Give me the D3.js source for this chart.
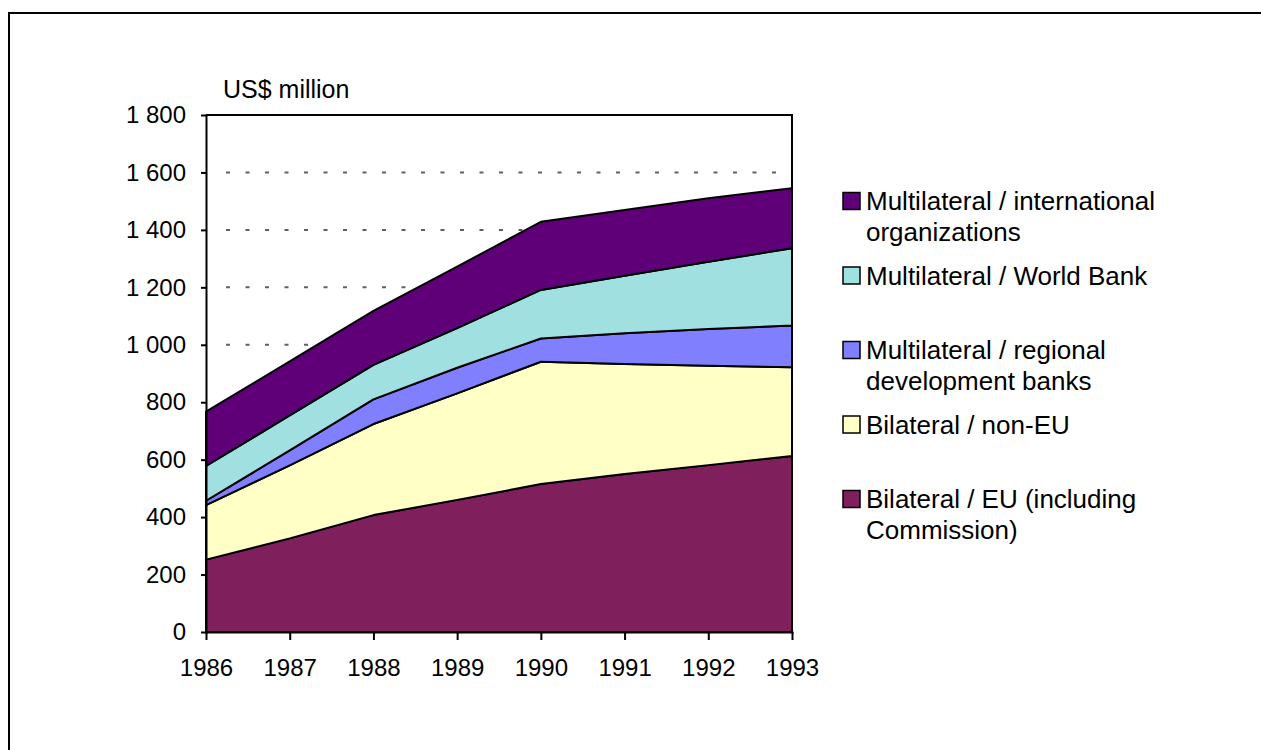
<!DOCTYPE html>
<html>
<head>
<meta charset="utf-8">
<script src="https://cdn.jsdelivr.net/npm/d3@7"></script>
<style>
	body { margin: 0; background: #fff; }
	svg { display: block; font-family: "Liberation Sans", Arial, sans-serif; }
	.axis text { font-size: 24px; fill: #000; }
	.axis path, .axis line { stroke: #000; stroke-width: 2px; }
</style>
</head>
<body>
<svg width="1261" height="750"></svg>
<script>
'use strict';

// data (US$ million per year, per source)
var years = [1986, 1987, 1988, 1989, 1990, 1991, 1992, 1993];
var bilateralEU = [252, 326, 407, 460, 515, 550, 581, 613];
var bilateralNonEU = [190, 254, 317, 371, 426, 383, 346, 309];
var regionalBanks = [15, 52, 86, 89, 81, 107, 128, 145];
var worldBank = [121, 122, 120, 138, 169, 200, 234, 269];
var intlOrgs = [189, 188, 188, 214, 237, 229, 221, 209];
var yTicks = [0, 200, 400, 600, 800, 1000, 1200, 1400, 1600, 1800];

// series names, bottom to top, with legend lines and colours
var keys = ["eu", "noneu", "regional", "wb", "intl"];
var legendLines = {
	intl: ["Multilateral / international", "organizations"],
	wb: ["Multilateral / World Bank"],
	regional: ["Multilateral / regional", "development banks"],
	noneu: ["Bilateral / non-EU"],
	eu: ["Bilateral / EU (including", "Commission)"]
};
var colors = {
	eu: "#7f1f5c",
	noneu: "#ffffc6",
	regional: "#8080ff",
	wb: "#a0e0e0",
	intl: "#5f0078"
};

var svg = d3.select("svg");
var margin = {top: 115, left: 206};
var width = 586;
var height = 517;

// outer frame (runs off the right and bottom of the picture)
svg.append("path")
	.attr("d", "M9,752V13H1263")
	.attr("fill", "none")
	.attr("stroke", "#000")
	.attr("stroke-width", 2);

var g = svg.append("g")
	.attr("transform", "translate(" + margin.left + "," + margin.top + ")");

var x = d3.scaleLinear().domain([1986, 1993]).range([0, width]);
var y = d3.scaleLinear().domain([0, 1800]).range([height, 0]);

// build rows for the stack
var rows = years.map(function(yr, i) {
	return {
		year: yr,
		eu: bilateralEU[i],
		noneu: bilateralNonEU[i],
		regional: regionalBanks[i],
		wb: worldBank[i],
		intl: intlOrgs[i]
	};
});
var series = d3.stack().keys(keys)(rows);

// dashed gridlines
g.append("g")
	.selectAll("line")
	.data(yTicks.slice(1, -1))
	.enter().append("line")
		.attr("x1", 20)
		.attr("x2", width - 14)
		.attr("y1", function(d) { return y(d); })
		.attr("y2", function(d) { return y(d); })
		.attr("stroke", "#606060")
		.attr("stroke-width", 2)
		.attr("stroke-dasharray", "4 15.5");

var area = d3.area()
	.x(function(d) { return x(d.data.year); })
	.y0(function(d) { return y(d[0]); })
	.y1(function(d) { return y(d[1]); });

g.selectAll(".layer")
	.data(series)
	.enter().append("path")
		.attr("class", "layer")
		.attr("d", area)
		.attr("fill", function(d) { return colors[d.key]; })
		.attr("stroke", "#000")
		.attr("stroke-width", 2)
		.attr("stroke-linejoin", "round");

// top and right border of the plot
g.append("path")
	.attr("d", "M0,0H" + width + "V" + height)
	.attr("fill", "none")
	.attr("stroke", "#000")
	.attr("stroke-width", 2);

var fmt = d3.formatLocale({decimal: ".", thousands: " ", grouping: [3], currency: ["", ""]}).format(",");

g.append("g")
	.attr("class", "axis axis--y")
	.call(d3.axisLeft(y).tickValues(yTicks).tickFormat(fmt).tickSize(5).tickSizeOuter(0).tickPadding(15));

g.append("g")
	.attr("class", "axis axis--x")
	.attr("transform", "translate(0," + height + ")")
	.call(d3.axisBottom(x).tickValues(years).tickFormat(d3.format("d")).tickSize(8).tickSizeOuter(0).tickPadding(19));

svg.selectAll(".axis .domain").attr("stroke-linecap", "square");

// unit label
svg.append("text")
	.attr("x", 223)
	.attr("y", 98)
	.attr("font-size", "25px")
	.text("US$ million");

// legend, top entry first
var legend = svg.append("g")
	.attr("transform", "translate(843,0)");

var items = legend.selectAll(".item")
	.data(keys.slice().reverse())
	.enter().append("g")
		.attr("class", "item")
		.attr("transform", function(d, i) { return "translate(0," + (201 + i * 74.5) + ")"; });

items.append("rect")
	.attr("x", 0)
	.attr("y", -8.5)
	.attr("width", 17)
	.attr("height", 17)
	.attr("fill", function(d) { return colors[d]; })
	.attr("stroke", "#000")
	.attr("stroke-width", 1.5);

items.append("text")
	.attr("font-size", "26px")
	.selectAll("tspan")
	.data(function(d) { return legendLines[d]; })
	.enter().append("tspan")
		.attr("x", 23)
		.attr("y", function(d, i) { return i * 31; })
		.attr("dy", "0.35em")
		.text(function(d) { return d; });
</script>
</body>
</html>
